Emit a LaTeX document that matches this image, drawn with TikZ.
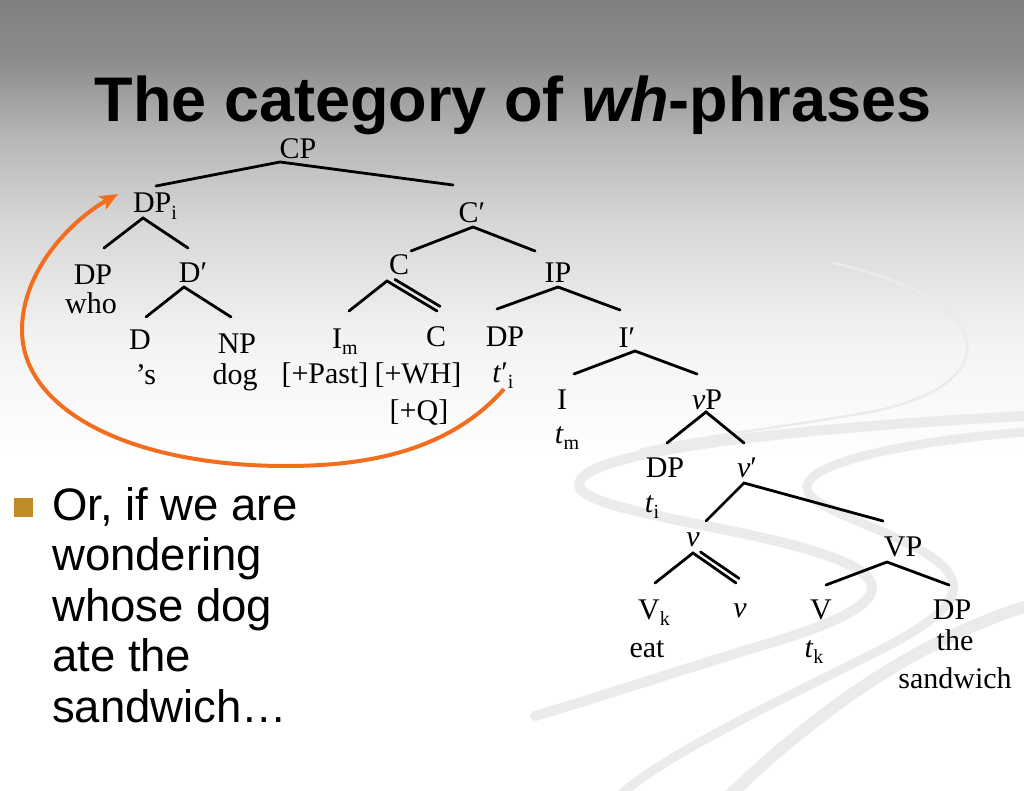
\documentclass[tikz,border=0pt]{standalone}
\usepackage{fontspec}
\setmainfont{Liberation Serif}
\newfontfamily\arialfont{Liberation Sans}
\usetikzlibrary{arrows.meta}
\definecolor{orangearrow}{RGB}{242,110,30}
\definecolor{bulletgold}{RGB}{192,138,38}
\definecolor{ribboncol}{RGB}{235,235,235}
\definecolor{bgA}{RGB}{128,128,128}
\definecolor{bgB}{RGB}{140,140,140}
\definecolor{bgC}{RGB}{184,184,184}
\definecolor{bgD}{RGB}{214,214,214}
\definecolor{bgE}{RGB}{243,243,243}
\definecolor{bgF}{RGB}{255,255,255}
\newcommand{\treefont}{\fontsize{30}{36}\selectfont}
\newcommand{\lsub}[1]{\raisebox{-0.22em}{\fontsize{20}{24}\selectfont #1}}
\newcommand{\myprime}{\char"2032\relax}
\begin{document}
\begin{tikzpicture}[x=1pt,y=-1pt,
  tree/.style={font=\treefont, inner sep=0pt, anchor=base},
  edge/.style={line width=2.8pt, line cap=round},
  titletext/.style={font=\arialfont\bfseries\fontsize{63}{70}\selectfont, inner sep=0pt, anchor=base},
  bullettext/.style={font=\arialfont\fontsize{45.5}{50}\selectfont, inner sep=0pt, anchor=base west},
  ribbon/.style={draw=ribboncol, line cap=round},
  movearrow/.style={draw=orangearrow, line width=4pt, -{Stealth[length=18pt,width=15pt,inset=4pt]}}]
\useasboundingbox (0,0) rectangle (1024,791);
% background
\fill[white] (0,0) rectangle (1024,791);
\shade[top color=bgA, bottom color=bgB] (0,0) rectangle (1024,60.5);
\shade[top color=bgB, bottom color=bgC] (0,60) rectangle (1024,140.5);
\shade[top color=bgC, bottom color=bgD] (0,140) rectangle (1024,220.5);
\shade[top color=bgD, bottom color=bgE] (0,220) rectangle (1024,340.5);
\shade[top color=bgE, bottom color=bgF] (0,340) rectangle (1024,460);
% ribbons
\draw[ribbon, line width=2.5pt] (833,263) .. controls (1000,300) and (1010,385) .. (870,412) .. controls (780,428) and (700,436) .. (640,450);
\draw[ribbon, line width=10pt] (1024,416) .. controls (760,430) and (565,455) .. (580,488) .. controls (595,515) and (780,530) .. (850,565) .. controls (900,590) and (860,615) .. (780,640) .. controls (680,670) and (590,700) .. (535,716);
\draw[ribbon, line width=9pt] (1024,432) .. controls (900,442) and (795,465) .. (808,492) .. controls (820,515) and (930,540) .. (950,575) .. controls (970,610) and (900,640) .. (820,680) .. controls (740,720) and (660,760) .. (620,795);
\draw[ribbon, line width=12pt] (1030,605) .. controls (950,630) and (850,680) .. (730,795);
% title
\node[titletext] (title) at (513,122) {The category of \textit{wh}-phrases};
% bullet
\node[fill=bulletgold, minimum size=19pt, inner sep=0pt] (bsq) at (23,507) {};
\node[bullettext] (b1) at (52,520) {Or, if we are};
\node[bullettext] (b2) at (52,570.5) {wondering};
\node[bullettext] (b3) at (52,621) {whose dog};
\node[bullettext] (b4) at (52,671.5) {ate the};
\node[bullettext] (b5) at (52,722) {sandwich\char"2026};
% tree labels
\node[tree] (CP) at (298,159) {CP};
\node[tree] (DPi) at (155,213) {DP\lsub{i}};
\node[tree] (Cbar) at (472,223) {C\myprime};
\node[tree] (DPwho) at (93,284) {DP};
\node[tree] (who) at (91,313) {who};
\node[tree] (Dbar) at (193,283) {D\myprime};
\node[tree] (Chead) at (399,275) {C};
\node[tree] (IP) at (558,283) {IP};
\node[tree] (D) at (140,349) {D};
\node[tree] (s) at (146,384) {\char"2019s};
\node[tree] (NP) at (237,353) {NP};
\node[tree] (dog) at (235,384) {dog};
\node[tree] (Im) at (345,348) {I\lsub{m}};
\node[tree] (past) at (325,383) {[+Past]};
\node[tree] (Cr) at (436,346) {C};
\node[tree] (wh) at (418,383) {[+WH]};
\node[tree] (q) at (419,420) {[+Q]};
\node[tree] (DPt) at (505,346) {DP};
\node[tree] (tpi) at (503,382) {\textit{t}\myprime\lsub{i}};
\node[tree] (Ibar) at (627,347) {I\myprime};
\node[tree] (I) at (562,409) {I};
\node[tree] (tm) at (567,443) {\textit{t}\lsub{m}};
\node[tree] (vP) at (707,409) {\textit{v}P};
\node[tree] (DPti) at (665,477) {DP};
\node[tree] (ti) at (652,512) {\textit{t}\lsub{i}};
\node[tree] (vbar) at (747,477) {\textit{v}\myprime};
\node[tree] (v) at (693,546) {\textit{v}};
\node[tree] (VP) at (903,556) {VP};
\node[tree] (Vk) at (654,619) {V\lsub{k}};
\node[tree] (vr) at (740,617) {\textit{v}};
\node[tree] (V) at (821,619) {V};
\node[tree] (DPs) at (952,619) {DP};
\node[tree] (eat) at (647,657) {eat};
\node[tree] (tk) at (814,657) {\textit{t}\lsub{k}};
\node[tree] (the) at (955,650) {the};
\node[tree] (sandwich) at (955,688) {sandwich};
% branch points
\coordinate (CPa) at (280,162); \coordinate (CPl) at (156,186); \coordinate (CPr) at (453,185);
\coordinate (DPia) at (143,218); \coordinate (DPil) at (104,248); \coordinate (DPir) at (188,248);
\coordinate (Dba) at (184,287); \coordinate (Dbl) at (146,317); \coordinate (Dbr) at (231,317);
\coordinate (Cba) at (473,227); \coordinate (Cbl) at (411,251); \coordinate (Cbr) at (535,251);
\coordinate (Cha) at (387,281); \coordinate (Chl) at (349,311); \coordinate (Chr) at (437,311);
\coordinate (Cha2) at (395,279.5); \coordinate (Chr2) at (440,306.4);
\coordinate (IPa) at (558,287); \coordinate (IPl) at (497,309); \coordinate (IPr) at (620,310);
\coordinate (Iba) at (635,351); \coordinate (Ibl) at (574,374); \coordinate (Ibr) at (697,374);
\coordinate (vPa) at (706,412); \coordinate (vPl) at (667,443); \coordinate (vPr) at (744,443);
\coordinate (vba) at (744,483); \coordinate (vbl) at (706,521); \coordinate (vbr) at (883,521);
\coordinate (va) at (693,553); \coordinate (vl) at (655,583); \coordinate (vr1) at (736,583);
\coordinate (va2) at (700.5,552); \coordinate (vr2) at (739,578.4);
\coordinate (VPa) at (887,562); \coordinate (VPl) at (826,585); \coordinate (VPr) at (949,585);
% branches
\draw[edge] (CPl) -- (CPa) -- (CPr);
\draw[edge] (DPil) -- (DPia) -- (DPir);
\draw[edge] (Dbl) -- (Dba) -- (Dbr);
\draw[edge] (Cbl) -- (Cba) -- (Cbr);
\draw[edge] (Chl) -- (Cha) -- (Chr);
\draw[edge] (Cha2) -- (Chr2);
\draw[edge] (IPl) -- (IPa) -- (IPr);
\draw[edge] (Ibl) -- (Iba) -- (Ibr);
\draw[edge] (vPl) -- (vPa) -- (vPr);
\draw[edge] (vbl) -- (vba) -- (vbr);
\draw[edge] (vl) -- (va) -- (vr1);
\draw[edge] (va2) -- (vr2);
\draw[edge] (VPl) -- (VPa) -- (VPr);
% movement arrow
\coordinate (arrS) at (504,389);
\coordinate (arrE) at (118,194);
\draw[movearrow] (arrS) .. controls (450,450) and (370,466) .. (286,466) .. controls (130,466) and (22,410) .. (22,330) .. controls (22,270) and (72,220) .. (arrE);
\end{tikzpicture}
\end{document}
